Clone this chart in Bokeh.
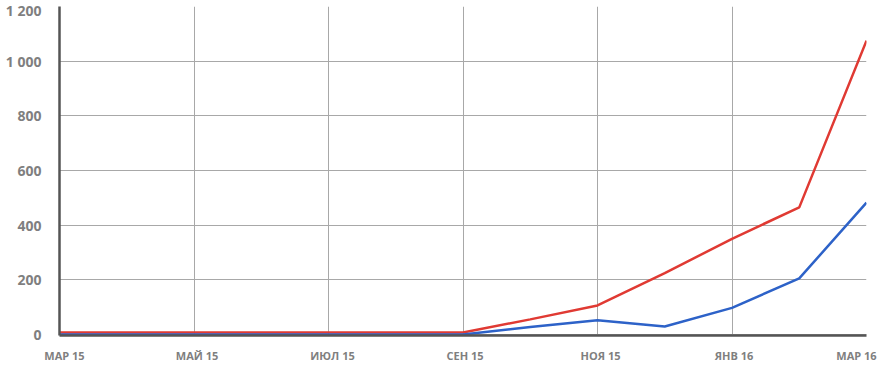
from bokeh.plotting import figure
from bokeh.models import FixedTicker, Range1d
from bokeh.embed import file_html
from bokeh.resources import INLINE

months = list(range(13))
red_values = [7, 7, 7, 7, 7, 7, 7, 55, 106, 224, 350, 465, 1075]
blue_values = [0, 0, 0, 0, 0, 0, 0, 27, 52, 29, 97, 205, 482]
tick_positions = [0, 2, 4, 6, 8, 10, 12]
tick_labels = ["МАР 15", "МАЙ 15", "ИЮЛ 15", "СЕН 15", "НОЯ 15", "ЯНВ 16", "МАР 16"]
y_ticks = [0, 200, 400, 600, 800, 1000, 1200]
y_labels = ["0", "200", "400", "600", "800", "1 000", "1 200"]

W, H = 877, 366
LEFT, RIGHT, TOP, BOTTOM = 59, 11, 6, 31
p = figure(width=W, height=H, output_backend="svg", toolbar_location=None,
           x_range=Range1d(0, 12), y_range=Range1d(-4, 1200),
           min_border_left=LEFT, min_border_right=RIGHT,
           min_border_top=TOP, min_border_bottom=BOTTOM)
p.outline_line_color = None
p.background_fill_color = "white"
p.border_fill_color = "white"

p.xgrid.ticker = FixedTicker(ticks=tick_positions)
p.ygrid.ticker = FixedTicker(ticks=y_ticks)
p.xgrid.grid_line_color = "#a8a8a8"
p.ygrid.grid_line_color = "#a8a8a8"

# label positions nudged (in pixels) like the reference
px_per_unit = (W - LEFT - RIGHT) / 12.0
nudges_px = [5, 3, 4, 2, 3, 2, -10]
label_ticks = [t + n / px_per_unit for t, n in zip(tick_positions, nudges_px)]
p.xaxis.ticker = FixedTicker(ticks=label_ticks)
p.xaxis.major_label_overrides = {t: l for t, l in zip(label_ticks, tick_labels)}
p.xaxis.major_label_text_font = "Open Sans"
p.xaxis.major_label_text_font_style = "bold"
p.xaxis.major_label_text_font_size = "11px"
p.xaxis.major_label_text_color = "#7f7f7f"
p.xaxis.major_label_standoff = 6
p.xaxis.axis_line_color = "#555555"
p.xaxis.axis_line_width = 2.5
p.xaxis.major_tick_line_color = None
p.xaxis.minor_tick_line_color = None

p.yaxis.ticker = FixedTicker(ticks=y_ticks)
p.yaxis.major_label_overrides = {t: l for t, l in zip(y_ticks, y_labels)}
p.yaxis.major_label_text_font = "Open Sans"
p.yaxis.major_label_text_font_style = "bold"
p.yaxis.major_label_text_font_size = "14px"
p.yaxis.major_label_text_color = "#7f7f7f"
p.yaxis.major_label_standoff = 12
p.yaxis.axis_line_color = "#555555"
p.yaxis.axis_line_width = 2.5
p.yaxis.major_tick_line_color = None
p.yaxis.minor_tick_line_color = None

p.line(months, red_values, line_color="#e03a33", line_width=2.5)
p.line(months, blue_values, line_color="#2d62c8", line_width=2.5)

open("out.html", "w").write(file_html(p, INLINE))
